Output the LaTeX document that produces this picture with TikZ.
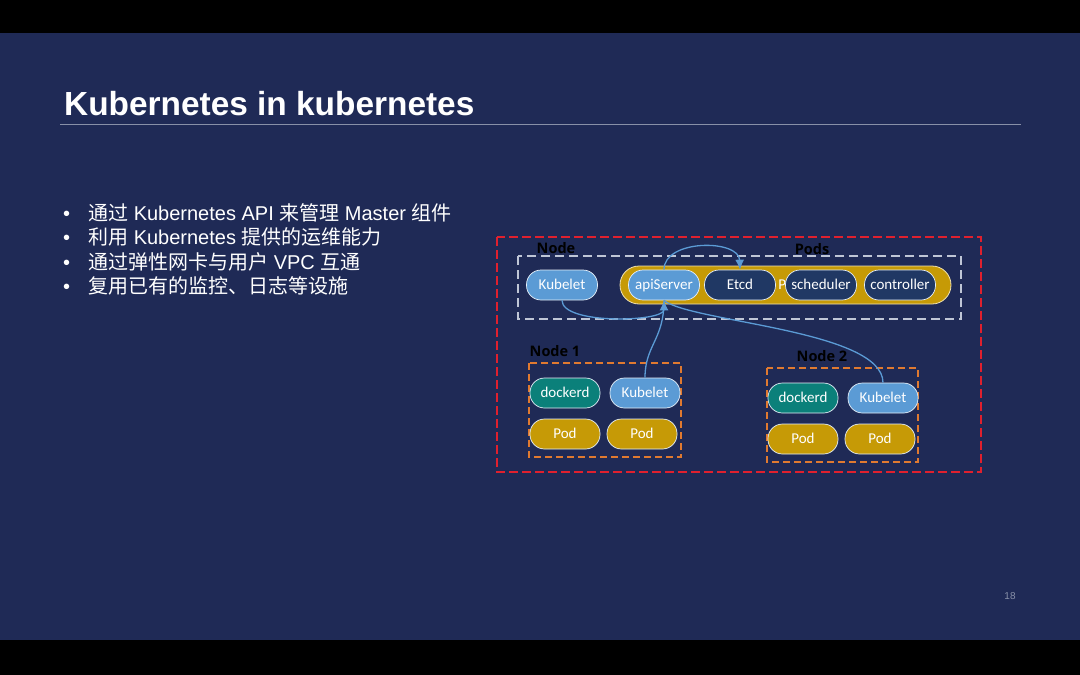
\documentclass[tikz,border=0pt]{standalone}
\usepackage{fontspec}
\setmainfont{Liberation Sans}
\newfontfamily\cjk{Noto Sans CJK SC}
\newfontfamily\pillfnt{Carlito}
\newfontfamily\labfnt{Open Sans}
\usetikzlibrary{arrows.meta}
\definecolor{bgnavy}{HTML}{1F2A56}
\definecolor{kblue}{HTML}{5B9BD5}
\definecolor{knavy}{HTML}{203864}
\definecolor{kteal}{HTML}{0B807A}
\definecolor{kgold}{HTML}{C69A06}
\definecolor{kred}{HTML}{E0202E}
\definecolor{korange}{HTML}{E07A30}
\definecolor{kgray}{HTML}{BFC6D6}
\definecolor{rulegray}{HTML}{8890A8}
\tikzset{
  pill/.style={draw=white!85!kblue, line width=0.7pt, rounded corners=14.5pt,
    minimum height=30pt, minimum width=71pt, inner sep=0pt, text=white,
    text height=10.5pt, text depth=1.5pt,
    font=\pillfnt\fontsize{15}{17}\selectfont},
  lb/.style={pill, fill=kblue},
  dk/.style={pill, fill=knavy},
  tl/.style={pill, fill=kteal},
  gd/.style={pill, fill=kgold},
  conn/.style={draw=kblue, line width=1.3pt},
  tip/.style={-{Latex[length=10pt,width=9pt]}},
  grp/.style={font=\labfnt\bfseries\fontsize{14.5}{16}\selectfont, text=black, inner sep=0pt},
  orbox/.style={draw=korange, line width=1.2pt, dash pattern=on 7pt off 4pt},
  bul/.style={anchor=base west, inner sep=0pt, text=white, font=\fontsize{20}{24}\selectfont},
}
\begin{document}
\begin{tikzpicture}[x=1pt,y=-1pt]
\useasboundingbox (0,0) rectangle (1080,675);
\fill[black] (0,0) rectangle (1080,675);
\fill[bgnavy] (0,33) rectangle (1080,640);
% title
\node[anchor=base west, inner sep=0pt, text=white, font=\bfseries\fontsize{33.4}{36}\selectfont] (title) at (64,115) {Kubernetes in kubernetes};
\draw[rulegray, line width=0.6pt] (60,124.5) -- (1021,124.5);
% bullets
\foreach \i/\y in {1/220.5,2/244.8,3/269,4/293.3}{
  \node[bul] (bl\i) at (63,\y) {•};
}
\node[bul] (t1) at (88,220.5) {{\cjk 通过} Kubernetes API {\cjk 来管理} Master {\cjk 组件}};
\node[bul] (t2) at (88,244.8) {{\cjk 利用} Kubernetes {\cjk 提供的运维能力}};
\node[bul] (t3) at (88,269) {{\cjk 通过弹性网卡与用户} VPC {\cjk 互通}};
\node[bul] (t4) at (88,293.3) {{\cjk 复用已有的监控、日志等设施}};
% page number
\node[text=rulegray, font=\fontsize{10}{12}\selectfont, inner sep=0pt] (pg) at (1010,596) {18};
% outer red dashed
\draw[kred, line width=1.4pt, dash pattern=on 9pt off 4pt] (497,237) rectangle (981,472);
% gray dashed
\draw[kgray, line width=1.1pt, dash pattern=on 9pt off 5pt] (518,256) rectangle (961,319);
\node[grp] (lnode) at (556,248) {Node};
\node[grp] (lpods) at (812,249) {Pods};
% top row
\node[lb] (kub) at (562,285) {Kubelet};
\draw[fill=kgold, draw=white!70!kgold, line width=0.8pt, rounded corners=19pt] (620,266) rectangle (951,304);
\node[text=white, font=\pillfnt\fontsize{15}{17}\selectfont, inner sep=0pt, text height=10.5pt, text depth=1.5pt] (podtxt) at (790,285) {Pod};
\node[lb] (api) at (664,285) {apiServer};
\node[dk] (etcd) at (740,285) {Etcd};
\node[dk] (sched) at (821,285) {scheduler};
\node[dk] (ctrl) at (900,285) {controller};
% node 1
\node[grp] (ln1) at (555,351) {Node 1};
\draw[orbox] (529,363) rectangle (681,457);
\node[tl, minimum width=70pt] (d1) at (565,393) {dockerd};
\node[lb, minimum width=70pt] (k1) at (645,393) {Kubelet};
\node[gd, minimum width=70pt] (p11) at (565,434) {Pod};
\node[gd, minimum width=70pt] (p12) at (642,434) {Pod};
% node 2
\node[grp] (ln2) at (822,356) {Node 2};
\draw[orbox] (767,368) rectangle (918,462);
\node[tl, minimum width=70pt] (d2) at (803,398) {dockerd};
\node[lb, minimum width=70pt] (k2) at (883,398) {Kubelet};
\node[gd, minimum width=70pt] (p21) at (803,439) {Pod};
\node[gd, minimum width=70pt] (p22) at (880,439) {Pod};
% connectors
\draw[conn,tip] (api.north) .. controls (664,239) and (739,239) .. (etcd.north);
\draw[conn] (k1.north) .. controls (645,345) and (664,340) .. (api.south);
\draw[conn] (k2.north) .. controls (883,330) and (690,322) .. (api.south);
\draw[conn,tip] (kub.south) .. controls (562,325) and (664,322) .. (api.south);
\end{tikzpicture}
\end{document}
